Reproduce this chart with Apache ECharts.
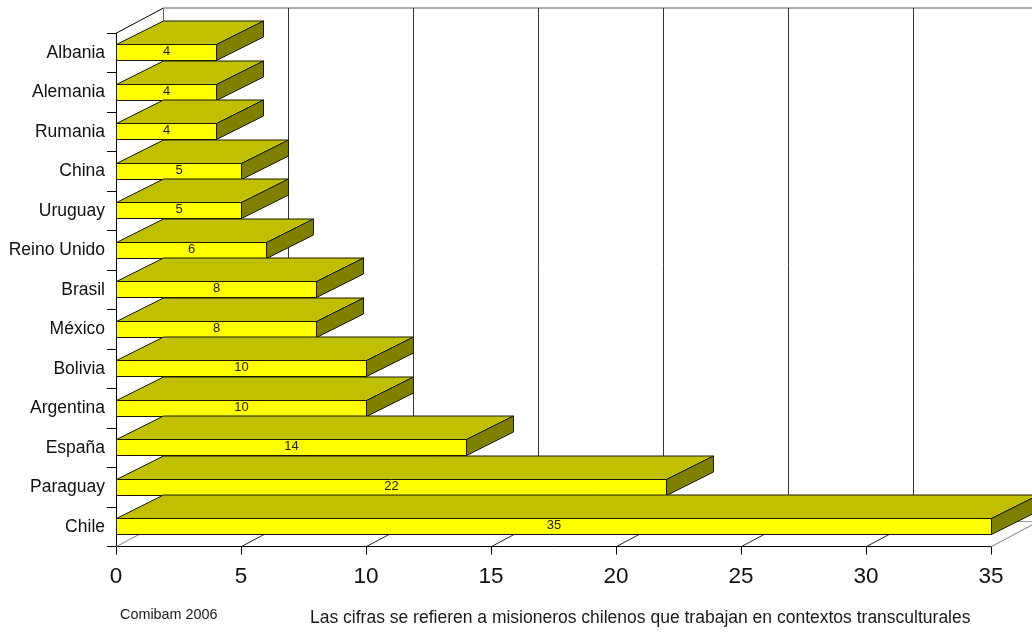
<!DOCTYPE html>
<html><head><meta charset="utf-8">
<style>html,body{margin:0;padding:0;background:#fff}#c{width:1032px;height:632px}</style>
<script src="https://cdn.jsdelivr.net/npm/echarts@6/dist/echarts.min.js"></script>
</head><body><div id="c"></div>
<script>
const categories = ['Albania','Alemania','Rumania','China','Uruguay','Reino Unido','Brasil','México','Bolivia','Argentina','España','Paraguay','Chile'];
const values = [4,4,4,5,5,6,8,8,10,10,14,22,35];
const xTicks = [0,5,10,15,20,25,30,35];
const FONT = '"Liberation Sans", Arial, sans-serif';
const DX = 47, DY_WALL = -25, DY_BAR = -23.5, BAR_H = 16;
const chart = echarts.init(document.getElementById('c'), null, {renderer:'canvas'});

function line(x1,y1,x2,y2,stroke,width){
  return {type:'line',shape:{x1,y1,x2,y2},style:{stroke,lineWidth:width||1,fill:null}};
}
function renderWall(params, api){
  const v = api.value(0);
  const p = api.coord([v, categories.length-1]);
  const cs = params.coordSys;
  const x = Math.round(p[0])+0.5, yb = cs.y+cs.height, yt = cs.y;
  const edge = v===0 || v===35;
  const kids = [];
  kids.push(line(x,yb,x+DX,yb+DY_WALL,edge?'#808080':'#222'));
  if (v === 0) kids.push(line(x,yt,x+DX,yt+DY_WALL,'#000'));
  kids.push(line(x+DX,yb+DY_WALL,x+DX,yt+DY_WALL,v===0?'#666':'#333'));
  if (v === 0) {
    kids.push(line(x+DX,yt+DY_WALL,cs.x+cs.width+DX,yt+DY_WALL,'#909090',1.4));
    kids.push(line(x+DX,yb+DY_WALL,cs.x+cs.width+DX,yb+DY_WALL,'#a0a0a0'));
  }
  return {type:'group',children:kids};
}
function renderBar(params, api){
  const v = api.value(0), c = api.value(1);
  const p0 = api.coord([0,c]), p1 = api.coord([v,c]);
  const x0 = p0[0]+0.5, x1 = Math.round(p1[0])+0.5;
  const yT = Math.floor(p0[1]-BAR_H/2)+0.5, yB = yT+BAR_H;
  const st = (fill)=>({fill,stroke:'#1a1a00',lineWidth:1});
  return {type:'group',children:[
    {type:'polygon',shape:{points:[[x0,yT],[x1,yT],[x1+DX,yT+DY_BAR],[x0+DX,yT+DY_BAR]]},style:st('#C0C000')},
    {type:'polygon',shape:{points:[[x1,yT],[x1+DX,yT+DY_BAR],[x1+DX,yB+DY_BAR],[x1,yB]]},style:st('#808000')},
    {type:'rect',shape:{x:x0,y:yT,width:x1-x0,height:BAR_H},style:st('#FFFF00')},
    {type:'text',style:{text:String(v),x:(x0+x1)/2,y:yT+7,align:'center',verticalAlign:'middle',font:'13px '+FONT,fill:'#222200'}}
  ]};
}
chart.setOption({
  animation:false,
  backgroundColor:'#fff',
  grid:{left:116,right:41,top:33,bottom:85.5,containLabel:false},
  xAxis:{type:'value',min:0,max:35,interval:5,
    axisLine:{show:true,lineStyle:{color:'#000',width:1}},
    axisTick:{show:true,length:8,lineStyle:{color:'#000'}},
    splitLine:{show:false},
    axisLabel:{color:'#111',fontFamily:FONT,fontSize:22.5,margin:19,formatter:v=>String(v),showMaxLabel:true,showMinLabel:true}},
  yAxis:{type:'category',inverse:true,data:categories,
    axisLine:{show:true,onZero:false,lineStyle:{color:'#000',width:1}},
    axisTick:{show:true,length:9,alignWithLabel:false,lineStyle:{color:'#000'}},
    axisLabel:{color:'#111',fontFamily:FONT,fontSize:17.5,margin:11,interval:0}},
  series:[
    {type:'custom',coordinateSystem:'cartesian2d',clip:false,z:1,silent:true,
     encode:{x:0},data:xTicks.map(t=>[t]),renderItem:renderWall},
    {type:'custom',coordinateSystem:'cartesian2d',clip:false,z:3,silent:true,
     encode:{x:0,y:1},data:values.map((v,i)=>[v,i]),renderItem:renderBar}
  ],
  graphic:[
    {type:'text',left:120,top:608,style:{text:'Comibam 2006',font:'14.4px '+FONT,fill:'#1a1a1a'}},
    {type:'text',left:310,top:609,style:{text:'Las cifras se refieren a misioneros chilenos que trabajan en contextos transculturales',font:'17.5px '+FONT,fill:'#1a1a1a'}}
  ]
});
</script></body></html>
